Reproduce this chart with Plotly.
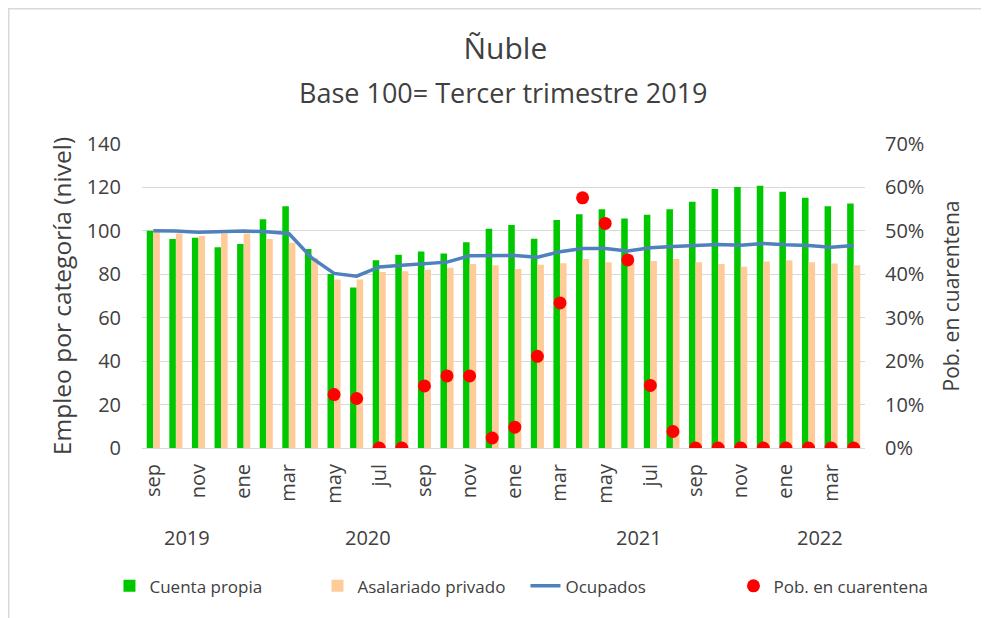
import plotly.graph_objects as go

months = ["sep", "oct", "nov", "dic",
          "ene", "feb", "mar", "abr", "may", "jun", "jul", "ago", "sep", "oct", "nov", "dic",
          "ene", "feb", "mar", "abr", "may", "jun", "jul", "ago", "sep", "oct", "nov", "dic",
          "ene", "feb", "mar", "abr"]
years = [2019] * 4 + [2020] * 12 + [2021] * 12 + [2022] * 4

cuenta_propia = [100.0, 96.2, 96.8, 92.4, 94.0, 105.4, 111.3, 91.6, 80.1, 73.9, 86.5, 89.0,
                 90.5, 89.6, 94.7, 101.0, 102.7, 96.4, 105.0, 107.6, 109.9, 105.7, 107.4, 110.0,
                 113.4, 119.3, 120.2, 120.8, 118.0, 115.3, 111.3, 112.6]
asalariado_privado = [100.0, 98.8, 97.6, 98.8, 98.8, 96.2, 94.5, 87.5, 77.6, 77.6, 81.0, 81.4,
                      82.1, 83.0, 84.7, 84.2, 82.4, 84.4, 85.1, 87.0, 85.6, 85.8, 86.1, 87.0,
                      85.6, 84.7, 83.5, 85.9, 86.5, 85.6, 85.0, 84.2]
ocupados = [100.0, 99.9, 99.4, 99.7, 99.9, 99.6, 98.8, 87.7, 80.4, 79.1, 83.4, 84.2,
            85.0, 85.6, 88.5, 88.5, 88.7, 87.9, 90.4, 91.9, 91.9, 90.7, 92.2, 92.8,
            93.3, 93.7, 93.4, 94.2, 93.6, 93.3, 92.4, 93.3]
cuarentena = [None] * 8 + [0.123, 0.114, 0.0, 0.0, 0.143, 0.166, 0.166, 0.023, 0.048, 0.211,
                           0.334, 0.576, 0.517, 0.433, 0.144, 0.038,
                           0.0, 0.0, 0.0, 0.0, 0.0, 0.0, 0.0, 0.0]

x = list(range(len(months)))
FONT = "Open Sans"
TXT = "#404040"

# page body has an 8px margin, so the figure is 8px smaller than the window
W, H = 981, 610
ML, MR, MT, MB = 134, 124, 136, 170
PW, PH = W - ML - MR, H - MT - MB

fig = go.Figure()
fig.add_trace(go.Bar(x=x, y=cuenta_propia, name="Cuenta propia", marker_color="#00C800",
                     marker_line_width=0))
fig.add_trace(go.Bar(x=x, y=asalariado_privado, name="Asalariado privado", marker_color="#FFCC99",
                     marker_line_width=0))
fig.add_trace(go.Scatter(x=x, y=ocupados, name="Ocupados", mode="lines",
                         line=dict(color="#4F81BD", width=3.5)))
fig.add_trace(go.Scatter(x=x, y=cuarentena, name="Pob. en cuarentena", mode="markers",
                         marker=dict(color="#FF0000", size=13), yaxis="y2"))

# year group labels centred under each year's months
annotations = []
for yr in sorted(set(years)):
    idx = [i for i, v in enumerate(years) if v == yr]
    annotations.append(dict(x=(idx[0] + idx[-1]) / 2, y=-0.294, xref="x", yref="paper",
                            text=str(yr), showarrow=False, yanchor="middle",
                            font=dict(size=20, color=TXT, family=FONT)))
annotations.append(dict(x=0.5, y=1.168, xref="paper", yref="paper",
                        text="Base 100= Tercer trimestre 2019",
                        showarrow=False, yanchor="middle",
                        font=dict(size=27, color=TXT, family=FONT)))

fig.update_layout(
    width=W, height=H,
    paper_bgcolor="white", plot_bgcolor="white",
    margin=dict(l=ML, r=MR, t=MT, b=MB, autoexpand=False),
    title=dict(text="Ñuble", x=0.507, xanchor="center", y=0.934, yanchor="middle",
               font=dict(size=30, color=TXT, family=FONT)),
    barmode="group", bargap=0.42, bargroupgap=0,
    font=dict(family=FONT, color=TXT),
    xaxis=dict(range=[-0.5, len(months) - 0.5], tickmode="array", tickvals=x[::2],
               ticktext=months[::2], tickangle=-90, tickfont=dict(size=20, color=TXT),
               showgrid=False, showline=False, zeroline=False, ticks="",
               ticklabelstandoff=11),
    yaxis=dict(range=[0, 140], dtick=20, tickfont=dict(size=20, color=TXT),
               gridcolor="#D9D9D9", gridwidth=1.3, zeroline=True, zerolinecolor="#D9D9D9",
               zerolinewidth=1.3, showline=False, ticks="", ticklabelstandoff=20,
               title=dict(text="Empleo por categoría (nivel)", font=dict(size=24.5, color=TXT),
                          standoff=8)),
    yaxis2=dict(range=[0, 0.7], dtick=0.1, tickformat=".0%", overlaying="y", side="right",
                tickfont=dict(size=20, color=TXT), showgrid=False, zeroline=False,
                showline=False, ticks="", ticklabelstandoff=19,
                title=dict(text="Pob. en cuarentena", font=dict(size=21, color=TXT), standoff=20)),
    legend=dict(orientation="h", x=-0.045, y=-0.455, xanchor="left", yanchor="middle",
                font=dict(size=17, color=TXT, family=FONT), entrywidth=163,
                entrywidthmode="pixels", itemwidth=30, traceorder="normal"),
    annotations=annotations,
    shapes=[dict(type="rect", xref="paper", yref="paper",
                 x0=-(ML - 0.75) / PW, x1=(W + 20 - ML) / PW,
                 y0=-(MB + 20) / PH, y1=(PH + MT - 0.75) / PH,
                 line=dict(color="#D9D9D9", width=1.5), fillcolor="rgba(0,0,0,0)", layer="below")],
)

fig.write_html("out.html")
